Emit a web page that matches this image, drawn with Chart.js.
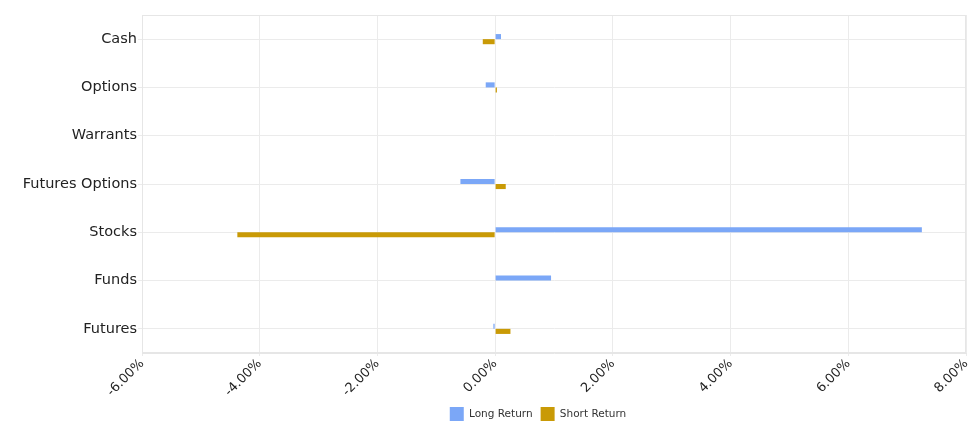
<!DOCTYPE html>
<html>
<head>
<meta charset="utf-8">
<script src="https://cdn.jsdelivr.net/npm/chart.js@4.4.1/dist/chart.umd.min.js"></script>
<style>
html,body{margin:0;padding:0;background:#fff;}
#wrap{width:972px;height:423px;position:relative;}
</style>
</head>
<body>
<div id="wrap"><canvas id="c"></canvas></div>
<script>
const categories = ["Cash", "Options", "Warrants", "Futures Options", "Stocks", "Funds", "Futures"];
const longReturn = [0.10, -0.16, 0.0, -0.59, 7.25, 0.95, -0.03];
const shortReturn = [-0.21, 0.03, 0.0, 0.18, -4.38, 0.0, 0.26];
const xTickMin = -6, xTickMax = 8, xTickStep = 2;

const borderPlugin = {
  id: 'areaBorder',
  afterLayout(chart) {
    const lg = chart.legend;
    if (lg) { lg.left -= 16; lg.right -= 16; }
  },
  beforeDatasetsDraw(chart) {
    const a = chart.chartArea, ctx = chart.ctx;
    ctx.save();
    ctx.strokeStyle = '#e6e6e6';
    ctx.lineWidth = 1;
    ctx.strokeRect(Math.round(a.left) + 0.5, Math.round(a.top) + 0.5, Math.round(a.right - a.left) - 1, Math.round(a.bottom - a.top) - 1);
    ctx.restore();
  }
};

new Chart(document.getElementById('c'), {
  type: 'bar',
  data: {
    labels: categories,
    datasets: [
      { label: 'Long Return', data: longReturn, backgroundColor: '#7ba7f7', borderWidth: 0, categoryPercentage: 0.21, barPercentage: 1 },
      { label: 'Short Return', data: shortReturn, backgroundColor: '#c99a06', borderWidth: 0, categoryPercentage: 0.21, barPercentage: 1 }
    ]
  },
  options: {
    indexAxis: 'y',
    responsive: true,
    maintainAspectRatio: false,
    animation: false,
    layout: { padding: { top: 15, right: 6, left: 0, bottom: -8 } },
    plugins: {
      legend: {
        position: 'bottom',
        fullSize: false,
        labels: {
          boxWidth: 14, boxHeight: 14, padding: 8,
          color: '#333',
          font: { family: 'DejaVu Sans', size: 10.5 }
        }
      },
      tooltip: { enabled: false }
    },
    scales: {
      x: {
        min: xTickMin, max: xTickMax,
        ticks: {
          stepSize: xTickStep,
          minRotation: 45, maxRotation: 45,
          padding: 0,
          color: '#222',
          font: { family: 'DejaVu Sans', size: 13 },
          callback: v => v.toFixed(2) + '%'
        },
        grid: { color: '#ebebeb', tickLength: 3 },
        border: { color: '#e6e6e6' },
        afterFit(s) { s.height = 46; s.paddingRight = 0; s.paddingLeft = 0; }
      },
      y: {
        grid: { color: '#ebebeb', offset: false, tickLength: 4 },
        border: { color: '#e6e6e6' },
        ticks: {
          color: '#222',
          padding: 1,
          font: { family: 'DejaVu Sans', size: 14.5 }
        },
        afterFit(s) { s.width = 142; }
      }
    }
  },
  plugins: [borderPlugin]
});
</script>
</body>
</html>
